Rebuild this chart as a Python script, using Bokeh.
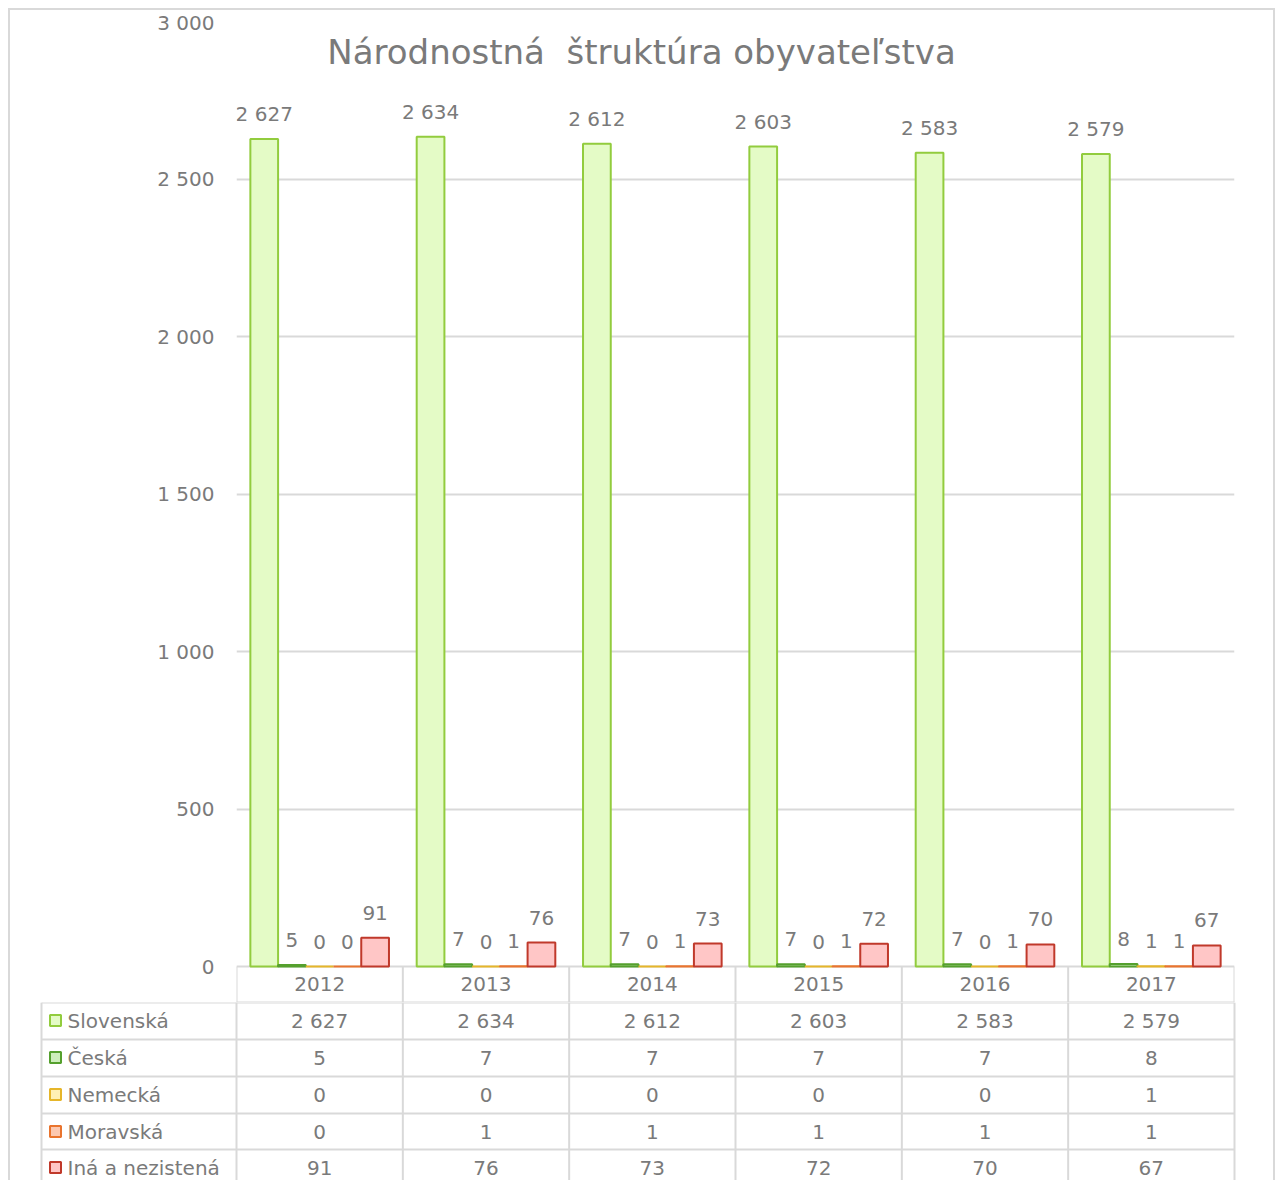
from bokeh.plotting import figure
from bokeh.models import FactorRange, Range1d, FixedTicker, ColumnDataSource, Label
from bokeh.transform import dodge
from bokeh.layouts import column
from bokeh.core.properties import value
from bokeh.embed import file_html
from bokeh.resources import INLINE

# ---------------- data ----------------
years = ["2012", "2013", "2014", "2015", "2016", "2017"]
slovenska = [2627, 2634, 2612, 2603, 2583, 2579]
ceska = [5, 7, 7, 7, 7, 8]
nemecka = [0, 0, 0, 0, 0, 1]
moravska = [0, 1, 1, 1, 1, 1]
ina = [91, 76, 73, 72, 70, 67]
series_names = ["Slovenská", "Česká", "Nemecká", "Moravská", "Iná a nezistená"]
y_ticks = [0, 500, 1000, 1500, 2000, 2500, 3000]
title_text = "Národnostná\u00a0 štruktúra obyvateľstva"

series = [slovenska, ceska, nemecka, moravska, ina]

# ---------------- style ----------------
fills = ["#e4fbc6", "#cdeebc", "#fff0b4", "#fcc8b0", "#ffc6c6"]
lines = ["#92cc3e", "#55a02e", "#e6b62a", "#e9742e", "#c0392b"]
FONT = "DejaVu Sans"
TXT = "#7a7a7a"
GRID = "#d9d9d9"
BORDER = "2px solid #d9d9d9"


def fmt(v):
    return f"{v:,}".replace(",", " ")


PX = 945 / 3000.0          # pixels per value unit
S = 998 / 6.0              # pixels per category
HEADER = 36                # header row height (px)

# ---------------- chart figure ----------------
pA = figure(x_range=FactorRange(factors=years),
            y_range=Range1d(-HEADER / PX, 3000),
            width=1263, height=992,
            min_border_left=226, min_border_right=39,
            min_border_top=11, min_border_bottom=0,
            x_axis_location=None,
            output_backend="svg", toolbar_location=None)
pA.outline_line_color = None
pA.xgrid.visible = False
pA.ygrid.grid_line_color = GRID
pA.ygrid.grid_line_width = 2
pA.yaxis.ticker = FixedTicker(ticks=y_ticks)
pA.yaxis.major_label_overrides = {t: fmt(t) for t in y_ticks}
pA.yaxis.axis_line_color = None
pA.yaxis.major_tick_line_color = None
pA.yaxis.minor_tick_line_color = None
pA.yaxis.major_tick_out = 0
pA.yaxis.major_tick_in = 0
pA.yaxis.major_label_standoff = 22
pA.yaxis.major_label_text_font = FONT
pA.yaxis.major_label_text_font_size = "20px"
pA.yaxis.major_label_text_color = TXT

data = {"year": years}
for i, vals in enumerate(series):
    data[f"v{i}"] = vals
    data[f"l{i}"] = [fmt(v) for v in vals]
src = ColumnDataSource(data)

offsets = [-2 / 6, -1 / 6, 0, 1 / 6, 2 / 6]
for i in range(len(series)):
    pA.vbar(x=dodge("year", offsets[i], range=pA.x_range), top=f"v{i}",
            width=1 / 6, source=src, fill_color=fills[i],
            line_color=lines[i], line_width=2)
    pA.text(x=dodge("year", offsets[i], range=pA.x_range), y=f"v{i}",
            text=f"l{i}", source=src, text_align="center",
            text_baseline="middle", y_offset=-25,
            text_font=value(FONT), text_font_size="20px", text_color=TXT)

# header row of data table (years)
bounds = list(range(len(years) + 1))
pA.segment(x0=bounds, y0=[0] * len(bounds), x1=bounds,
           y1=[-HEADER / PX] * len(bounds), line_color=GRID, line_width=2)
pA.segment(x0=[0], y0=[-HEADER / PX], x1=[len(years)], y1=[-HEADER / PX],
           line_color=GRID, line_width=2)
pA.text(x="year", y=-17 / PX, text="year", source=src, text_align="center",
        text_baseline="middle", text_font=value(FONT),
        text_font_size="20px", text_color=TXT)

pA.add_layout(Label(x=(641 - 236) / S, y=(966 - 51) / PX, text=title_text,
                    text_align="center", text_baseline="middle",
                    text_font=FONT, text_font_size="34px", text_color=TXT))

# ---------------- data table figure ----------------
pB = figure(x_range=Range1d((10 - 236) / S, (1273 - 236) / S),
            y_range=Range1d(-178, 0),
            width=1263, height=178, min_border=0,
            x_axis_location=None, y_axis_location=None,
            output_backend="svg", toolbar_location=None)
pB.outline_line_color = None
pB.grid.visible = False

LEFT = (41 - 236) / S
row_bounds = [0, -37, -74, -111, -147]
row_centers = [-18, -55, -92, -129, -165]
n = len(years)

pB.segment(x0=[LEFT] * len(row_bounds), y0=row_bounds,
           x1=[n] * len(row_bounds), y1=row_bounds,
           line_color=GRID, line_width=2)
vx = [LEFT] + bounds
pB.segment(x0=vx, y0=[0] * len(vx), x1=vx, y1=[-180] * len(vx),
           line_color=GRID, line_width=2)

pB.scatter(x=[(55 - 236) / S] * len(series_names), y=row_centers,
           marker="square", size=11, fill_color=fills, line_color=lines,
           line_width=2)
pB.text(x=[(67 - 236) / S] * len(series_names), y=row_centers,
        text=series_names, text_align="left", text_baseline="middle",
        text_font=value(FONT), text_font_size="20px", text_color=TXT)

tx, ty, tt = [], [], []
for r, vals in enumerate(series):
    for c, v in enumerate(vals):
        tx.append(c + 0.5)
        ty.append(row_centers[r])
        tt.append(fmt(v))
pB.text(x=tx, y=ty, text=tt, text_align="center", text_baseline="middle",
        text_font=value(FONT), text_font_size="20px", text_color=TXT)

rootA = column(pA, styles={"margin-left": "8px", "margin-top": "8px",
                           "border-top": BORDER, "border-left": BORDER,
                           "border-right": BORDER})
rootB = column(pB, styles={"margin-left": "8px", "border-left": BORDER,
                           "border-right": BORDER})

open("out.html", "w").write(file_html([rootA, rootB], INLINE))
